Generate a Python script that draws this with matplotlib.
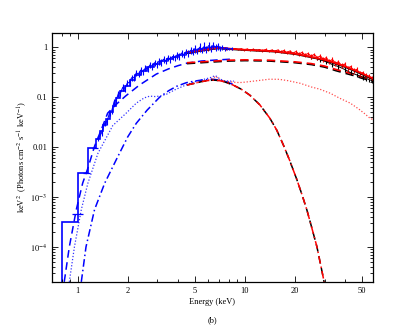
import numpy as np
import matplotlib
matplotlib.use("Agg")
import matplotlib.pyplot as plt

plt.rcParams['font.family'] = 'serif'
plt.rcParams['font.serif'] = ['Liberation Serif', 'DejaVu Serif']
plt.rcParams['mathtext.fontset'] = 'stix'

# ---- blue (soft X-ray) data ----
blue_cross_e = [1.00, 1.13, 1.27]
blue_cross_y = [4.5e-4, 3.0e-3, 9.5e-3]
blue_cross_xerr = [0.07, 0.06, 0.05]

blue_e = [1.33, 1.39, 1.45, 1.50, 1.55, 1.60, 1.65, 1.70, 1.75, 1.80, 1.86, 1.92,
          1.98, 2.04, 2.10, 2.17, 2.24, 2.31, 2.38, 2.46, 2.54, 2.62, 2.70, 2.79,
          2.88, 2.97, 3.06, 3.16, 3.26, 3.36, 3.47, 3.58, 3.69, 3.81, 3.93, 4.05,
          4.18, 4.31, 4.45, 4.59, 4.74, 4.89, 5.04, 5.20, 5.37, 5.54, 5.71, 5.89,
          6.08, 6.27, 6.47, 6.68, 6.89, 7.11, 7.34, 7.57, 7.81, 8.06, 8.32]
blue_y = [0.0150, 0.0195, 0.030, 0.033, 0.049, 0.054, 0.081, 0.088, 0.118, 0.121, 0.158, 0.150,
          0.192, 0.198, 0.245, 0.246, 0.305, 0.292, 0.348, 0.322, 0.385, 0.368, 0.44, 0.42,
          0.49, 0.455, 0.525, 0.505, 0.575, 0.535, 0.615, 0.58, 0.65, 0.62, 0.70, 0.665,
          0.765, 0.71, 0.815, 0.765, 0.87, 0.82, 0.95, 0.85, 1.00, 0.89, 1.04, 0.93,
          1.08, 0.97, 1.10, 0.99, 1.05, 0.95, 1.00, 0.93, 0.96, 0.92, 0.94]
blue_err = [0.002, 0.003, 0.004, 0.005, 0.007, 0.008, 0.011, 0.012, 0.016, 0.017, 0.022, 0.022,
            0.028, 0.029, 0.035, 0.035, 0.043, 0.042, 0.05, 0.047, 0.056, 0.054, 0.063, 0.062,
            0.072, 0.068, 0.078, 0.075, 0.085, 0.08, 0.09, 0.087, 0.096, 0.093, 0.105, 0.1,
            0.115, 0.108, 0.125, 0.115, 0.135, 0.125, 0.17, 0.13, 0.2, 0.14, 0.21, 0.15,
            0.21, 0.16, 0.19, 0.15, 0.15, 0.11, 0.1, 0.08, 0.06, 0.05, 0.05]

# blue model (histogram)
blue_edges = [0.7, 0.8, 1.0, 1.15, 1.28, 1.35, 1.42, 1.48, 1.55, 1.62, 1.70, 1.80, 1.92, 2.05,
              2.2, 2.4, 2.6, 2.85, 3.1, 3.4, 3.7, 4.0, 4.4, 4.8, 5.3, 5.8, 6.4, 7.0, 7.7, 8.4]
blue_model = [1e-7, 3.1e-4, 3.0e-3, 9.5e-3, 0.0145, 0.021, 0.028, 0.037, 0.050, 0.068, 0.095,
              0.13, 0.17, 0.22, 0.28, 0.34, 0.40, 0.46, 0.52, 0.58, 0.64, 0.70, 0.78, 0.85,
              0.92, 0.98, 1.02, 0.98, 0.94]

# blue components
bdash_e = [0.83, 0.89, 0.98, 1.07, 1.15, 1.26, 1.38, 1.51, 1.7, 1.93, 2.34, 2.95, 3.5, 4.0, 4.5, 5.5, 7.0, 8.5]
bdash_y = [2e-5, 1e-4, 5.6e-4, 1.9e-3, 3.8e-3, 0.0104, 0.022, 0.048, 0.072, 0.105, 0.175, 0.29,
           0.37, 0.43, 0.48, 0.53, 0.56, 0.58]
bdot_e = [0.89, 0.955, 1.05, 1.15, 1.32, 1.62, 1.95, 2.24, 2.5, 2.7, 2.9, 3.1, 3.4, 3.8, 4.25,
          4.8, 5.3, 5.9, 6.3, 6.6, 6.8, 7.1, 7.5, 8.0, 8.6]
bdot_y = [2e-5, 1e-4, 5.6e-4, 1.9e-3, 7.5e-3, 0.027, 0.048, 0.076, 0.097, 0.105, 0.103, 0.105,
          0.115, 0.14, 0.165, 0.195, 0.215, 0.235, 0.25, 0.27, 0.26, 0.23, 0.215, 0.21, 0.21]
bdd_e = [1.05, 1.12, 1.26, 1.45, 1.70, 1.99, 2.24, 2.6, 3.09, 3.5, 3.9, 4.46, 5.0, 5.5, 6.0,
         6.5, 7.0, 7.5, 8.0, 8.5]
bdd_y = [2e-5, 1e-4, 5.6e-4, 1.9e-3, 5.6e-3, 0.016, 0.03, 0.055, 0.1, 0.135, 0.165, 0.195,
         0.21, 0.22, 0.225, 0.228, 0.22, 0.21, 0.195, 0.18]

# ---- red / black (hard X-ray) data ----
red_e = [4.5, 4.7, 4.9, 5.1, 5.3, 5.5, 5.8, 6.0, 6.3, 6.5, 6.8, 7.1, 7.4, 7.7, 8.0, 8.4, 8.7,
         9.1, 9.5, 9.9, 10.3, 10.8, 11.2, 11.7, 12.2, 12.7, 13.3, 13.9, 14.5, 15.1, 15.7, 16.4,
         17.1, 17.8, 18.6, 19.4, 20.2, 21.1, 22.0, 22.9, 23.9, 24.9, 26.0, 27.1, 28.3, 29.5,
         30.7, 32.0, 33.4, 34.8, 36.3, 37.9, 39.5, 41.2, 42.9, 44.8, 46.7, 48.7, 50.8, 53.0,
         55.2, 57.6]
red_y = [0.80, 0.79, 0.84, 0.83, 0.87, 0.86, 0.91, 0.89, 0.95, 0.94, 0.98, 0.95, 0.97, 0.93,
         0.95, 0.92, 0.94, 0.90, 0.93, 0.89, 0.92, 0.88, 0.91, 0.87, 0.90, 0.86, 0.90, 0.84,
         0.88, 0.83, 0.88, 0.81, 0.86, 0.79, 0.84, 0.76, 0.82, 0.73, 0.79, 0.70, 0.75, 0.66,
         0.72, 0.62, 0.67, 0.57, 0.62, 0.52, 0.57, 0.48, 0.51, 0.43, 0.46, 0.38, 0.41, 0.34,
         0.36, 0.30, 0.31, 0.27, 0.26, 0.24]
red_err = [0.03, 0.03, 0.03, 0.03, 0.03, 0.03, 0.03, 0.03, 0.03, 0.03, 0.03, 0.03, 0.03, 0.03,
           0.03, 0.03, 0.03, 0.03, 0.035, 0.035, 0.035, 0.04, 0.04, 0.04, 0.04, 0.045, 0.045,
           0.045, 0.05, 0.05, 0.055, 0.055, 0.06, 0.06, 0.06, 0.06, 0.065, 0.065, 0.065, 0.065,
           0.065, 0.065, 0.065, 0.06, 0.06, 0.06, 0.06, 0.055, 0.055, 0.055, 0.05, 0.05, 0.045,
           0.045, 0.04, 0.04, 0.035, 0.035, 0.03, 0.03, 0.025, 0.02]
black_e = [24.9, 27.1, 28.3, 30.7, 33.4, 36.3, 39.5, 42.9, 46.7, 50.8, 53.0, 55.2, 57.6]
black_y = [0.62, 0.60, 0.56, 0.51, 0.45, 0.41, 0.36, 0.31, 0.28, 0.25, 0.24, 0.225, 0.215]
black_err = [0.05, 0.05, 0.05, 0.05, 0.05, 0.045, 0.04, 0.035, 0.03, 0.03, 0.03, 0.025, 0.02]

# models / components
mod_e = [4.5, 5, 6, 6.5, 7, 8, 10, 15, 20, 25, 30, 35, 40, 45, 50, 55, 58]
black_mod = [0.77, 0.81, 0.89, 0.93, 0.95, 0.92, 0.88, 0.82, 0.73, 0.63, 0.55, 0.47, 0.40, 0.34, 0.29, 0.25, 0.235]
red_mod = [0.79, 0.83, 0.91, 0.95, 0.97, 0.94, 0.89, 0.83, 0.74, 0.64, 0.56, 0.48, 0.41, 0.35, 0.30, 0.26, 0.24]

cont_e = [4.5, 6, 8, 10, 14, 20, 25, 30, 35, 40, 45, 50, 55, 58]
black_cont = [0.47, 0.50, 0.53, 0.54, 0.53, 0.49, 0.45, 0.40, 0.34, 0.30, 0.27, 0.24, 0.22, 0.21]
red_cont = [0.49, 0.52, 0.55, 0.56, 0.55, 0.51, 0.47, 0.42, 0.36, 0.32, 0.285, 0.255, 0.235, 0.225]

refl_e = [4.5, 5.0, 5.5, 6.0, 6.4, 6.7, 7.0, 7.5, 8.5, 9.3, 10, 12, 14, 16, 18, 21.4, 25, 28,
          32.4, 37, 42.7, 48, 52, 56, 58]
refl_y = [0.175, 0.19, 0.205, 0.22, 0.24, 0.26, 0.23, 0.21, 0.20, 0.196, 0.20, 0.215, 0.229,
          0.228, 0.215, 0.19, 0.16, 0.145, 0.12, 0.095, 0.076, 0.058, 0.047, 0.038, 0.036]

disk_e = [4.5, 5.0, 5.5, 6.0, 6.5, 7.0, 7.5, 8.5, 9.5, 10.7, 12.3, 14.1, 15.5, 17, 18.5, 20.4,
          22, 23.5, 25, 27, 29.4, 30.5]
disk_y = [0.175, 0.19, 0.205, 0.215, 0.22, 0.215, 0.205, 0.175, 0.145, 0.11, 0.07, 0.038,
          0.022, 0.011, 0.0055, 0.0023, 0.0011, 5.5e-4, 2.6e-4, 1e-4, 2.5e-5, 1.3e-5]

fig = plt.figure(figsize=(4.15, 3.32), dpi=100)
ax = fig.add_axes([0.125, 0.151, 0.774, 0.7496])

blue = '#0000ff'
red = '#ff0000'

# components
ax.plot(bdash_e, bdash_y, color=blue, ls=(0, (5, 3)), lw=1.1)
ax.plot(bdot_e, bdot_y, color=blue, ls=(0, (1, 1.5)), lw=0.9, alpha=0.8)
ax.plot(bdd_e, bdd_y, color=blue, ls=(0, (5, 2, 1, 2)), lw=1.1)
ax.plot(cont_e, black_cont, color='k', ls=(0, (5, 3)), lw=1.2)
ax.plot(cont_e, red_cont, color=red, ls=(0, (5, 3)), lw=1.2)
ax.plot(refl_e, refl_y, color=red, ls=(0, (1, 1.5)), lw=0.9, alpha=0.7)
ax.plot(disk_e, disk_y, color='k', ls=(0, (5, 3)), lw=1.1)
ax.plot(disk_e, disk_y, color=red, ls=(0, (5, 2, 1, 2)), lw=1.1)

# data
ax.errorbar(black_e, black_y, yerr=black_err, fmt='none', ecolor='k', elinewidth=0.8)
ax.plot(black_e, black_y, color='k', lw=0.7)
ax.errorbar(red_e, red_y, yerr=red_err, fmt='none', ecolor=red, elinewidth=0.8)
ax.plot(red_e, red_y, color=red, lw=0.8)
ax.plot(mod_e, black_mod, color='k', lw=1.3)
ax.plot(mod_e, red_mod, color=red, lw=1.3)

ax.stairs(blue_model, blue_edges, baseline=None, color=blue, lw=1.2)
ax.errorbar(blue_cross_e, blue_cross_y, xerr=blue_cross_xerr, fmt='none', ecolor=blue, elinewidth=0.9)
ax.errorbar(blue_e, blue_y, yerr=blue_err, fmt='none', ecolor=blue, elinewidth=0.8)
ax.plot(blue_e, blue_y, color=blue, lw=0.8)

ax.set_xscale('log')
ax.set_yscale('log')
ax.set_xlim(0.7, 58.5)
ax.set_ylim(2e-5, 1.93)

ax.set_xticks([1, 2, 5, 10, 20, 50])
ax.set_xticklabels(['1', '2', '5', '10', '20', '50'])
ax.set_yticks([1e-4, 1e-3, 1e-2, 0.1, 1])
ax.set_yticklabels(['$10^{-4}$', '$10^{-3}$', '0.01', '0.1', '1'])
ax.xaxis.set_minor_formatter(matplotlib.ticker.NullFormatter())
ax.yaxis.set_minor_formatter(matplotlib.ticker.NullFormatter())
ax.tick_params(which='both', direction='in', top=True, right=True, labelsize=6, width=0.6)
ax.tick_params(which='major', length=4)
ax.tick_params(which='minor', length=2)
for s in ax.spines.values():
    s.set_linewidth(0.9)

ax.set_xlabel('Energy (keV)', fontsize=6, labelpad=2)
ax.set_ylabel('keV$^2$  (Photons cm$^{-2}$ s$^{-1}$ keV$^{-1}$)', fontsize=6)
ax.yaxis.set_label_coords(-0.07, 0.5)
fig.text(0.512, 0.03, '(b)', fontsize=6, ha='center')

fig.savefig('out.png', dpi=100)
